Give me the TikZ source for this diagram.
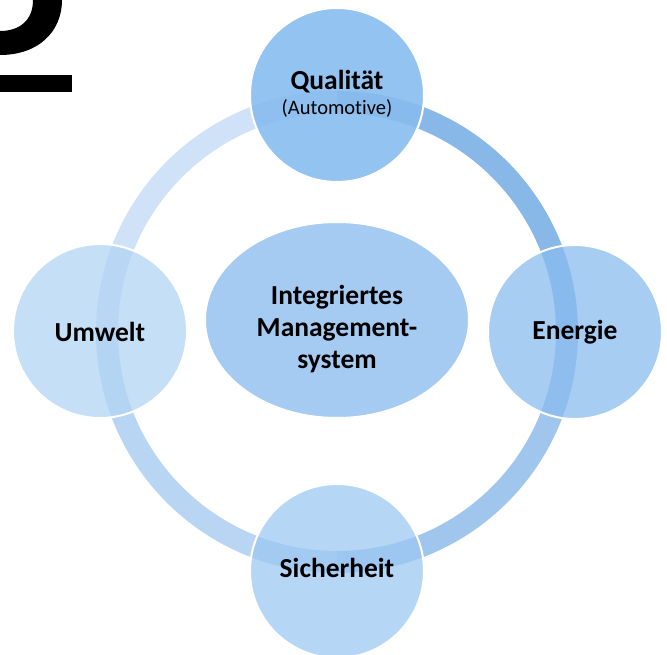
\documentclass[tikz,border=0pt]{standalone}
\usepackage{fontspec}
\setmainfont{Carlito}[Ligatures=NoCommon]
\usetikzlibrary{shapes.geometric}
\definecolor{bandTR}{HTML}{88B8E8}
\definecolor{bandBR}{HTML}{A0C6EE}
\definecolor{bandBL}{HTML}{B8D5F4}
\definecolor{bandTL}{HTML}{CFE2F8}
\definecolor{cQual}{HTML}{87BCEE}
\definecolor{cEner}{HTML}{8ABCEF}
\definecolor{cSich}{HTML}{9DC8F1}
\definecolor{cUmw}{HTML}{B2D4F3}
\definecolor{cMid}{HTML}{A5CBF2}
\tikzset{
  band/.style={line width=22pt},
  ring/.style={circle, minimum size=174pt, inner sep=0pt, draw=white, line width=2pt,
    fill opacity=0.75},
  mid/.style={ellipse, minimum width=264pt, minimum height=196pt, inner sep=0pt, fill=cMid,
    draw=white, line width=2pt},
  lbl/.style={font=\bfseries\fontsize{27.5}{32}\selectfont, align=center, inner sep=0pt}
}
\begin{document}
\begin{tikzpicture}[x=1pt,y=-1pt]
\useasboundingbox (0,0) rectangle (667,655);
\coordinate (C) at (337,332);
% ring segments
\draw[band, bandTR] ([shift={(270:230)}]C) arc[start angle=270, end angle=360, radius=230];
\draw[band, bandBR] ([shift={(0:230)}]C) arc[start angle=0, end angle=90, radius=230];
\draw[band, bandBL] ([shift={(90:230)}]C) arc[start angle=90, end angle=180, radius=230];
\draw[band, bandTL] ([shift={(180:230)}]C) arc[start angle=180, end angle=270, radius=230];
% circles
\node[ring, fill=cQual, fill opacity=0.9] (qual) at (337,95) {};
\node[lbl] (qualtext) at (337,94) {Qualität\\[-7pt]{\mdseries\fontsize{20.5}{24}\selectfont (Automotive)}};
\node[ring, fill=cEner] (ener) at (575,332) {};
\node[lbl] (enertext) at (575,332) {Energie};
\node[ring, fill=cSich] (sich) at (337,571) {};
\node[lbl] (sichtext) at (337,568) {Sicherheit};
\node[ring, fill=cUmw] (umw) at (100,331) {};
\node[lbl] (umwtext) at (100,332) {Umwelt};
% center
\node[mid] (ims) at (337,320) {};
\node[lbl] (imstext) at (337,329) {Integriertes\\Management-\\system};
% fragment top-left
\fill[black] (62,0) .. controls (62,32) and (38,55) .. (0,55) -- (0,31) .. controls (20,31) and (33,20) .. (33,0) -- cycle;
\fill[black] (0,75) rectangle (72,92);
\end{tikzpicture}
\end{document}
